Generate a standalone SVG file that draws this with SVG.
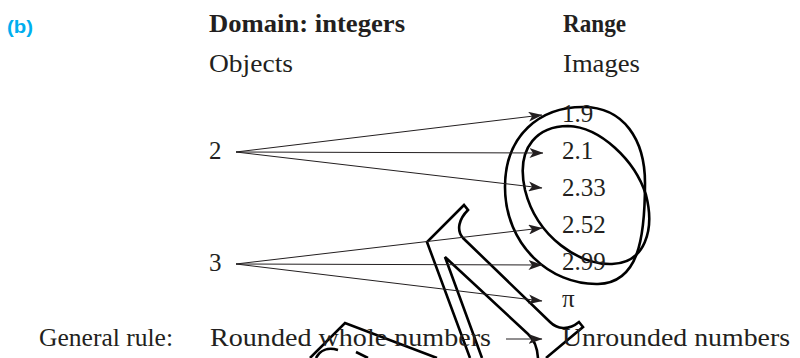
<svg xmlns="http://www.w3.org/2000/svg" width="800" height="358" viewBox="0 0 800 358">
<defs>
<style>
.t{font-family:"Liberation Serif","Times New Roman",serif;font-size:25px;fill:#231f20}
.b{font-weight:bold}
.lab{font-family:"Liberation Sans",Arial,sans-serif;font-size:19px;font-weight:bold;fill:#00aeef}
.c{stroke:#231f20;stroke-width:1;fill:none;marker-end:url(#ah)}
.o{stroke:#000;stroke-width:2.6;fill:none;stroke-linejoin:miter}
</style>
<marker id="ah" viewBox="0 0 14 10" markerWidth="14" markerHeight="10" refX="13.5" refY="5" markerUnits="userSpaceOnUse" orient="auto">
<path d="M0,0 L14,5 L0,10 L3.5,5 Z" fill="#231f20"/>
</marker>
</defs>
<rect width="800" height="358" fill="#fff"/>

<g id="outlines">
<path class="o" d="M505,187 C505,135 540,107 583,107 C624,107 645,140 645,183 C645,240 638,283 598,284 C550,285 505,245 505,187 Z"/>
<path class="o" d="M525,190 C515,145 540,126 568,126 C600,127 635,160 646,195 C655,230 645,263 612,264 C580,265 537,238 525,190 Z"/>
<path class="o" d="M470,358 L427,242 L464,205 L468,210 C459,219 456,230 463,238 L550,322 C557,329 568,331 579,322 L583,327 L546,358"/>
<path class="o" d="M482,358 L445,257 L528,334 Q537,342 538,358"/>
<path class="o" d="M310,358 L345,323 L437,358"/>
<path class="o" d="M316,358 C320,350 328,347 338,350"/>
<path class="o" d="M356,352 L368,358"/>
</g>

<g id="connectors">
<line class="c" x1="236" y1="152" x2="542" y2="115"/>
<line class="c" x1="236" y1="152" x2="543" y2="153"/>
<line class="c" x1="236" y1="152" x2="542" y2="188"/>
<line class="c" x1="236" y1="264" x2="542" y2="228"/>
<line class="c" x1="236" y1="264" x2="542" y2="265"/>
<line class="c" x1="236" y1="264" x2="542" y2="301"/>
<line class="c" x1="506" y1="339" x2="542" y2="339"/>
</g>

<g id="label-b"><text class="lab" x="7" y="33" textLength="26" lengthAdjust="spacingAndGlyphs">(b)</text></g>
<g id="domain-header"><text class="t b" x="209" y="32" textLength="196" lengthAdjust="spacingAndGlyphs">Domain: integers</text></g>
<g id="range-header"><text class="t b" x="563" y="32" textLength="63" lengthAdjust="spacingAndGlyphs">Range</text></g>
<g id="objects-header"><text class="t" x="209" y="72" textLength="84" lengthAdjust="spacingAndGlyphs">Objects</text></g>
<g id="images-header"><text class="t" x="563" y="72" textLength="77" lengthAdjust="spacingAndGlyphs">Images</text></g>

<g id="obj-2"><text class="t" x="209" y="159">2</text></g>
<g id="obj-3"><text class="t" x="209" y="271">3</text></g>

<g id="img-1-9"><text class="t" x="562" y="122">1.9</text></g>
<g id="img-2-1"><text class="t" x="562" y="159">2.1</text></g>
<g id="img-2-33"><text class="t" x="562" y="196">2.33</text></g>
<g id="img-2-52"><text class="t" x="562" y="233">2.52</text></g>
<g id="img-2-99"><text class="t" x="562" y="270">2.99</text></g>
<g id="img-pi"><text class="t" x="562" y="307">π</text></g>

<g id="general-rule"><text class="t" x="39" y="346" textLength="134" lengthAdjust="spacingAndGlyphs">General rule:</text></g>
<g id="rule-domain"><text class="t" x="210" y="346" textLength="281" lengthAdjust="spacingAndGlyphs">Rounded whole numbers</text></g>
<g id="rule-range"><text class="t" x="562" y="346" textLength="228" lengthAdjust="spacingAndGlyphs">Unrounded numbers</text></g>
</svg>
